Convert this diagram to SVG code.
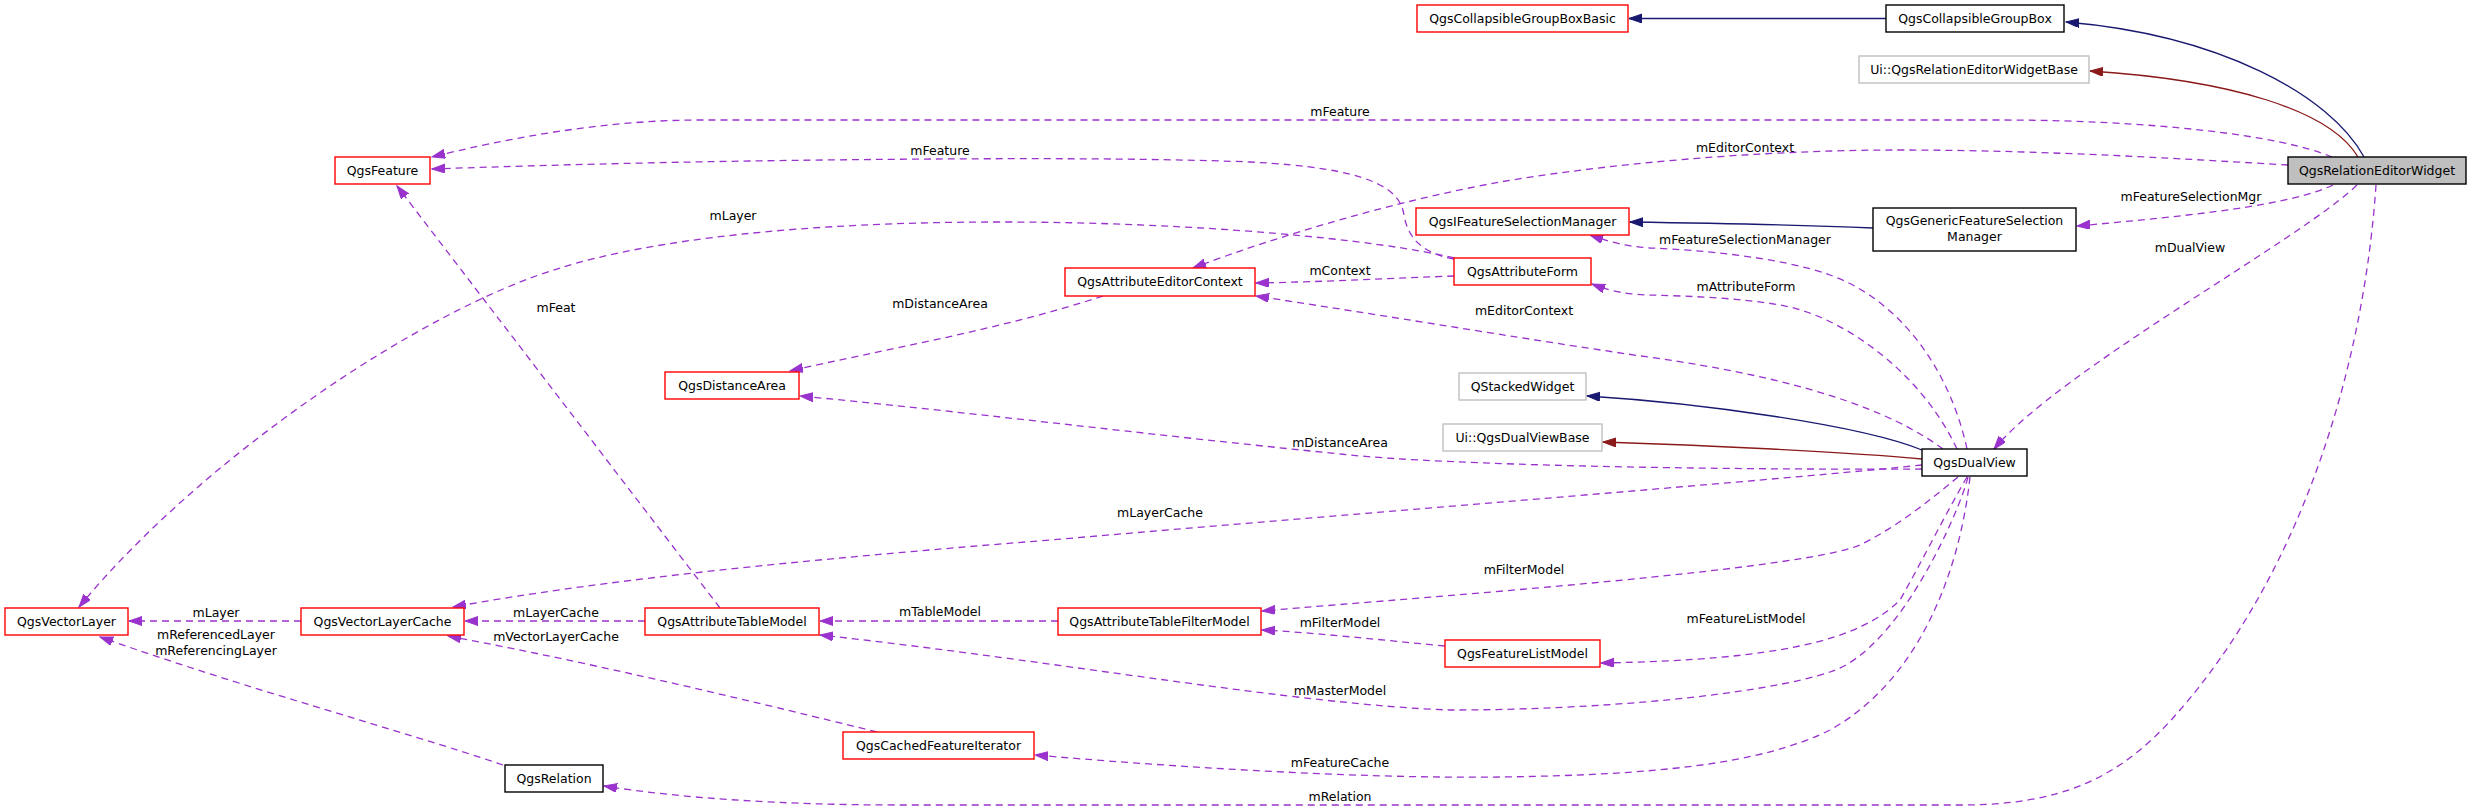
<svg xmlns="http://www.w3.org/2000/svg" width="2472" height="811" viewBox="0 0 2472 811">
<style>
text{font-family:"DejaVu Sans","Liberation Sans",sans-serif;font-size:12.5px;fill:#000}
.n text{text-anchor:middle}
.red rect{fill:#fff;stroke:#ff0000;stroke-width:1.4}
.blk rect{fill:#fff;stroke:#000;stroke-width:1.4}
.gry rect{fill:#fff;stroke:#bfbfbf;stroke-width:1.4}
.cur rect{fill:#bfbfbf;stroke:#000;stroke-width:1.4}
.u{fill:none;stroke:#9a32cd;stroke-width:1.3;stroke-dasharray:7,5;marker-end:url(#ap)}
.pb{fill:none;stroke:#191970;stroke-width:1.3;marker-end:url(#ab)}
.pr{fill:none;stroke:#8b1a1a;stroke-width:1.3;marker-end:url(#ar)}
.lbl{text-anchor:middle}
</style>
<defs>
<marker id="ap" markerUnits="userSpaceOnUse" markerWidth="14" markerHeight="10" refX="13" refY="4.5" orient="auto"><path d="M0,0 L13,4.5 L0,9 z" fill="#9a32cd" stroke="#9a32cd"/></marker>
<marker id="ab" markerUnits="userSpaceOnUse" markerWidth="14" markerHeight="10" refX="13" refY="4.5" orient="auto"><path d="M0,0 L13,4.5 L0,9 z" fill="#191970" stroke="#191970"/></marker>
<marker id="ar" markerUnits="userSpaceOnUse" markerWidth="14" markerHeight="10" refX="13" refY="4.5" orient="auto"><path d="M0,0 L13,4.5 L0,9 z" fill="#8b1a1a" stroke="#8b1a1a"/></marker>
</defs>
<rect width="2472" height="811" fill="#fff"/>
<g id="connectors">
<path class="pb" d="M1886,18.5 L1629,18.5"/>
<path class="pb" d="M2364,157 C2330,95 2220,35 2066,22"/>
<path class="pr" d="M2358,157 C2330,110 2230,80 2090,71"/>
<path class="pb" d="M1873,228 C1800,225 1700,223 1630,222"/>
<path class="pb" d="M1922,450 C1860,425 1700,403 1587,396"/>
<path class="pr" d="M1922,459 C1850,452 1700,445 1603,442"/>
<path class="u" d="M2332,157 C2280,135 2150,120 2000,120 L700,120 C600,120 500,140 432,157"/>
<path class="u" d="M1454,259 C1425,254 1408,240 1404,215 C1400,188 1370,168 1250,162 C1150,158 1000,158 824,160 C650,162 520,166 432,169"/>
<path class="u" d="M1454,258 C1380,240 1200,222 1000,222 C800,222 650,240 560,268 C420,310 200,460 79,607"/>
<path class="u" d="M2288,165 C2200,160 2050,150 1900,150 C1750,150 1600,165 1500,182 C1400,200 1280,235 1193,268"/>
<path class="u" d="M2333,185 C2290,205 2200,215 2077,226"/>
<path class="u" d="M2357,185 C2300,240 2060,370 1994,449"/>
<path class="u" d="M2376,185 C2365,350 2310,560 2180,710 C2120,780 2060,805 1960,805 L900,805 C780,805 680,798 604,786"/>
<path class="u" d="M1454,276 C1400,278 1320,282 1256,283"/>
<path class="u" d="M1967,449 C1950,370 1900,300 1830,275 C1780,257 1700,250 1650,248 C1620,246 1605,240 1590,235"/>
<path class="u" d="M1957,449 C1920,370 1840,315 1780,305 C1740,298 1690,296 1648,295 C1620,294 1605,289 1592,284"/>
<path class="u" d="M1943,449 C1890,410 1800,378 1648,357 C1550,343 1400,318 1256,296"/>
<path class="u" d="M1103,296 C1000,330 880,350 790,371"/>
<path class="u" d="M1922,469 C1700,470 1450,465 1350,455 C1150,435 950,410 800,396"/>
<path class="u" d="M1922,465 C1800,478 1400,510 1050,540 C800,560 600,580 453,607"/>
<path class="u" d="M1958,477 C1930,500 1900,525 1860,545 C1800,570 1450,595 1262,611"/>
<path class="u" d="M1445,646 C1380,640 1320,633 1262,630"/>
<path class="u" d="M1967,477 C1945,515 1920,565 1900,600 C1860,640 1780,660 1601,663"/>
<path class="u" d="M1968,477 C1960,510 1900,650 1830,672 C1760,695 1600,710 1450,710 C1300,705 1050,660 820,635"/>
<path class="u" d="M1970,477 C1960,570 1920,680 1830,730 C1760,765 1650,775 1500,777 C1350,779 1150,765 1035,755"/>
<path class="u" d="M1058,621 L820,621"/>
<path class="u" d="M645,621 L465,621"/>
<path class="u" d="M720,608 L397,186"/>
<path class="u" d="M877,732 C820,718 620,668 448,636"/>
<path class="u" d="M301,621 L129,621"/>
<path class="u" d="M503,765 C400,730 250,690 100,637"/>
<g id="edge-labels">
<text class="lbl" x="1340" y="116">mFeature</text>
<text class="lbl" x="940" y="155">mFeature</text>
<text class="lbl" x="733" y="220">mLayer</text>
<text class="lbl" x="1745" y="152">mEditorContext</text>
<text class="lbl" x="2191" y="201">mFeatureSelectionMgr</text>
<text class="lbl" x="1745" y="244">mFeatureSelectionManager</text>
<text class="lbl" x="2190" y="252">mDualView</text>
<text class="lbl" x="1340" y="275">mContext</text>
<text class="lbl" x="1746" y="291">mAttributeForm</text>
<text class="lbl" x="556" y="312">mFeat</text>
<text class="lbl" x="940" y="308">mDistanceArea</text>
<text class="lbl" x="1524" y="315">mEditorContext</text>
<text class="lbl" x="1340" y="447">mDistanceArea</text>
<text class="lbl" x="1160" y="517">mLayerCache</text>
<text class="lbl" x="1524" y="574">mFilterModel</text>
<text class="lbl" x="216" y="617">mLayer</text>
<text class="lbl" x="556" y="617">mLayerCache</text>
<text class="lbl" x="940" y="616">mTableModel</text>
<text class="lbl" x="1746" y="623">mFeatureListModel</text>
<text class="lbl" x="1340" y="627">mFilterModel</text>
<text class="lbl" x="216" y="639">mReferencedLayer</text>
<text class="lbl" x="216" y="655">mReferencingLayer</text>
<text class="lbl" x="556" y="641">mVectorLayerCache</text>
<text class="lbl" x="1340" y="695">mMasterModel</text>
<text class="lbl" x="1340" y="767">mFeatureCache</text>
<text class="lbl" x="1340" y="801">mRelation</text>
</g>
</g>
<g id="QgsCollapsibleGroupBoxBasic" class="n red"><rect x="1417" y="5" width="211" height="27"/><text x="1522.5" y="23">QgsCollapsibleGroupBoxBasic</text></g>
<g id="QgsCollapsibleGroupBox" class="n blk"><rect x="1886" y="5" width="178" height="27"/><text x="1975" y="23">QgsCollapsibleGroupBox</text></g>
<g id="UiQgsRelationEditorWidgetBase" class="n gry"><rect x="1859" y="56" width="230" height="27"/><text x="1974" y="74">Ui::QgsRelationEditorWidgetBase</text></g>
<g id="QgsRelationEditorWidget" class="n cur"><rect x="2288" y="157" width="178" height="27"/><text x="2377" y="175">QgsRelationEditorWidget</text></g>
<g id="QgsFeature" class="n red"><rect x="335" y="157" width="95" height="27"/><text x="382.5" y="175">QgsFeature</text></g>
<g id="QgsIFeatureSelectionManager" class="n red"><rect x="1416" y="208" width="213" height="27"/><text x="1522.5" y="226">QgsIFeatureSelectionManager</text></g>
<g id="QgsGenericFeatureSelectionManager" class="n blk"><rect x="1873" y="208" width="203" height="43"/><text x="1974.5" y="225">QgsGenericFeatureSelection</text><text x="1974.5" y="241">Manager</text></g>
<g id="QgsAttributeForm" class="n red"><rect x="1454" y="258" width="137" height="27"/><text x="1522.5" y="276">QgsAttributeForm</text></g>
<g id="QgsAttributeEditorContext" class="n red"><rect x="1065" y="268" width="190" height="28"/><text x="1160" y="286">QgsAttributeEditorContext</text></g>
<g id="QgsDistanceArea" class="n red"><rect x="665" y="372" width="134" height="27"/><text x="732" y="390">QgsDistanceArea</text></g>
<g id="QStackedWidget" class="n gry"><rect x="1459" y="373" width="127" height="27"/><text x="1522.5" y="391">QStackedWidget</text></g>
<g id="UiQgsDualViewBase" class="n gry"><rect x="1443" y="424" width="159" height="27"/><text x="1522.5" y="442">Ui::QgsDualViewBase</text></g>
<g id="QgsDualView" class="n blk"><rect x="1922" y="449" width="105" height="27"/><text x="1974.5" y="467">QgsDualView</text></g>
<g id="QgsVectorLayer" class="n red"><rect x="5" y="608" width="123" height="27"/><text x="66.5" y="626">QgsVectorLayer</text></g>
<g id="QgsVectorLayerCache" class="n red"><rect x="301" y="608" width="163" height="27"/><text x="382.5" y="626">QgsVectorLayerCache</text></g>
<g id="QgsAttributeTableModel" class="n red"><rect x="645" y="608" width="174" height="27"/><text x="732" y="626">QgsAttributeTableModel</text></g>
<g id="QgsAttributeTableFilterModel" class="n red"><rect x="1058" y="608" width="203" height="27"/><text x="1159.5" y="626">QgsAttributeTableFilterModel</text></g>
<g id="QgsFeatureListModel" class="n red"><rect x="1445" y="640" width="155" height="27"/><text x="1522.5" y="658">QgsFeatureListModel</text></g>
<g id="QgsCachedFeatureIterator" class="n red"><rect x="843" y="732" width="191" height="27"/><text x="938.5" y="750">QgsCachedFeatureIterator</text></g>
<g id="QgsRelation" class="n blk"><rect x="505" y="765" width="98" height="27"/><text x="554" y="783">QgsRelation</text></g>
</svg>
